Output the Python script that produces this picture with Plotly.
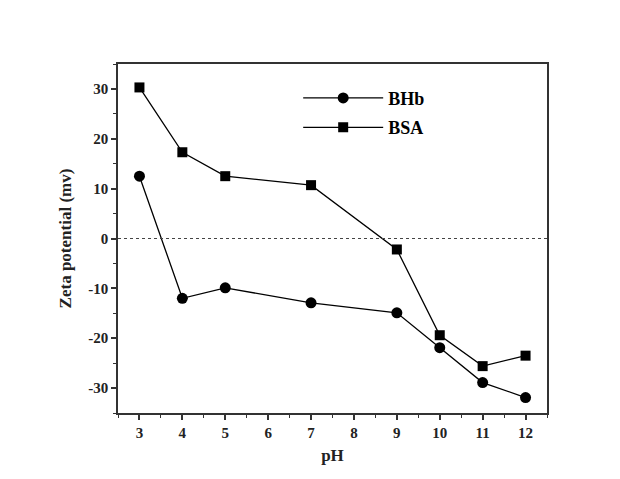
import plotly.graph_objects as go

ph = [3, 4, 5, 7, 9, 10, 11, 12]
bhb = [12.5, -12.0, -9.9, -12.9, -14.9, -21.9, -28.9, -31.9]
bsa = [30.3, 17.3, 12.5, 10.7, -2.2, -19.4, -25.6, -23.5]
x_ticks = [3, 4, 5, 6, 7, 8, 9, 10, 11, 12]
y_ticks = [-30, -20, -10, 0, 10, 20, 30]
x_labels = ["3", "4", "5", "6", "7", "8", "9", "10", "11", "12"]
y_labels = ["-30", "-20", "-10", "0", "10", "20", "30"]

font_fam = "Liberation Serif, Times New Roman, serif"

fig = go.Figure()
fig.add_trace(go.Scatter(x=ph, y=bhb, mode="lines+markers", name="<b>BHb</b>",
                         legendgroup="a",
                         line=dict(color="black", width=1.3),
                         marker=dict(symbol="circle", size=11, color="black")))
fig.add_trace(go.Scatter(x=ph, y=bsa, mode="lines+markers", name="<b>BSA</b>",
                         legendgroup="b",
                         line=dict(color="black", width=1.3),
                         marker=dict(symbol="square", size=10, color="black")))

fig.add_shape(type="line", xref="paper", yref="y", x0=0, x1=1, y0=0, y1=0,
              line=dict(color="#444", width=1, dash="dot"))

axis_common = dict(showline=True, linecolor="#333", linewidth=1.5, mirror=True,
                   ticks="outside", ticklen=5, tickwidth=1.5, tickcolor="#333",
                   showgrid=False, zeroline=False,
                   tickfont=dict(family=font_fam, size=15, color="#222"))

fig.update_xaxes(range=[2.5, 12.5], tickvals=x_ticks,
                 ticktext=["<b>%s</b>" % t for t in x_labels],
                 minor=dict(ticks="outside", ticklen=3, tickwidth=1.2, tickcolor="#333", dtick=0.5, tick0=2.5),
                 title=dict(text="<b>pH</b>", font=dict(family=font_fam, size=17, color="#222"), standoff=9),
                 **axis_common)
fig.update_yaxes(range=[-35, 35], tickvals=y_ticks,
                 ticktext=["<b>%s</b>" % t for t in y_labels],
                 minor=dict(ticks="outside", ticklen=3, tickwidth=1.2, tickcolor="#333", dtick=5, tick0=-35),
                 title=dict(text="<b>Zeta potential (mv)</b>", font=dict(family=font_fam, size=17, color="#222"), standoff=12),
                 **axis_common)

fig.update_layout(width=620, height=479,
                  margin=dict(l=110, r=81, t=56, b=74),
                  paper_bgcolor="white", plot_bgcolor="white",
                  showlegend=True,
                  legend=dict(x=0.42, y=0.955, xanchor="left", yanchor="top",
                              bgcolor="rgba(0,0,0,0)", itemwidth=80,
                              font=dict(family=font_fam, size=18, color="black"),
                              tracegroupgap=3),
                  font=dict(family=font_fam))

fig.write_html("out.html")
